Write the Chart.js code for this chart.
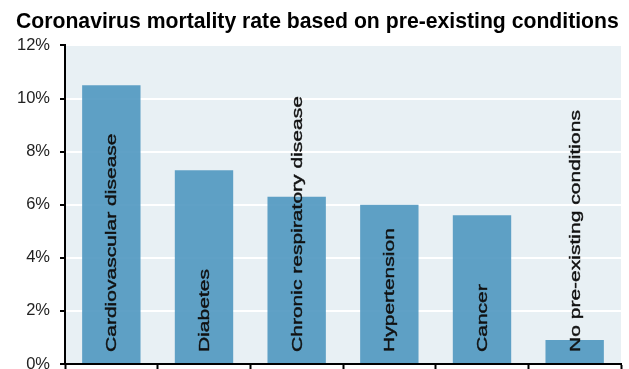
<!DOCTYPE html>
<html>
<head>
<meta charset="utf-8">
<script src="https://cdn.jsdelivr.net/npm/chart.js@4/dist/chart.umd.min.js"></script>
<style>
  html, body { margin: 0; padding: 0; background: #fff; }
  #wrap { width: 629px; height: 369px; position: relative; }
</style>
</head>
<body>
<div id="wrap"><canvas id="chart"></canvas></div>
<script>
const categories = [
  'Cardiovascular disease',
  'Diabetes',
  'Chronic respiratory disease',
  'Hypertension',
  'Cancer',
  'No pre-existing conditions',
];
const mortalityRates = [10.5, 7.3, 6.3, 6.0, 5.6, 0.9];
const yMin = 0;
const yMax = 12;
const yStep = 2;

const FONT = '"Liberation Sans", Arial, sans-serif';
const PLOT_BG = '#E8F0F4';

// light panel behind the plot area
const plotBackground = {
  id: 'plotBackground',
  beforeDraw(chart) {
    const { ctx, chartArea: a } = chart;
    ctx.save();
    ctx.fillStyle = PLOT_BG;
    ctx.fillRect(a.left, a.top, a.right - a.left, a.bottom - a.top);
    ctx.restore();
  },
};

// category names written vertically inside each bar
const barLabels = {
  id: 'barLabels',
  afterDatasetsDraw(chart) {
    const ctx = chart.ctx;
    const zeroY = chart.scales.y.getPixelForValue(0);
    chart.getDatasetMeta(0).data.forEach((bar, i) => {
      ctx.save();
      ctx.translate(bar.x + 5, zeroY - 12);
      ctx.rotate(-Math.PI / 2);
      ctx.scale(1.45, 1);
      ctx.font = `14.5px ${FONT}`;
      ctx.fillStyle = '#111';
      ctx.strokeStyle = '#111';
      ctx.lineWidth = 0.4;
      ctx.textAlign = 'left';
      ctx.textBaseline = 'alphabetic';
      ctx.fillText(categories[i], 0, 0);
      ctx.strokeText(categories[i], 0, 0);
      ctx.restore();
    });
  },
};

new Chart(document.getElementById('chart'), {
  type: 'bar',
  data: {
    labels: categories,
    datasets: [{
      data: mortalityRates,
      backgroundColor: 'rgba(79,151,192,0.9)',
      borderWidth: 0,
      categoryPercentage: 1,
      barPercentage: 0.63,
    }],
  },
  options: {
    responsive: true,
    maintainAspectRatio: false,
    animation: false,
    layout: { padding: { left: 16, right: 8, top: 0, bottom: 0 } },
    plugins: {
      legend: { display: false },
      tooltip: { enabled: false },
      title: {
        display: true,
        text: 'Coronavirus mortality rate based on pre-existing conditions',
        align: 'start',
        color: '#000',
        font: { family: FONT, size: 21.2, weight: 'bold' },
        padding: { top: 9, bottom: 11 },
      },
    },
    scales: {
      x: {
        offset: true,
        grid: {
          offset: true,
          drawOnChartArea: false,
          tickLength: 5,
          tickColor: '#000',
          tickWidth: 2,
        },
        border: { color: '#000', width: 2 },
        ticks: { display: false },
      },
      y: {
        min: yMin,
        max: yMax,
        afterFit: scale => {
          scale.width = 49;
          // let the 0% label run off the bottom like the original
          scale.paddingTop = 0;
          scale.paddingBottom = 0;
        },
        ticks: {
          stepSize: yStep,
          padding: 10,
          color: '#222',
          font: { family: FONT, size: 16.5 },
          callback: v => v + '%',
        },
        grid: {
          color: '#fff',
          lineWidth: 2,
          tickLength: 5,
          tickColor: '#000',
          tickWidth: 2,
        },
        border: { color: '#000', width: 2 },
      },
    },
  },
  plugins: [plotBackground, barLabels],
});
</script>
</body>
</html>
